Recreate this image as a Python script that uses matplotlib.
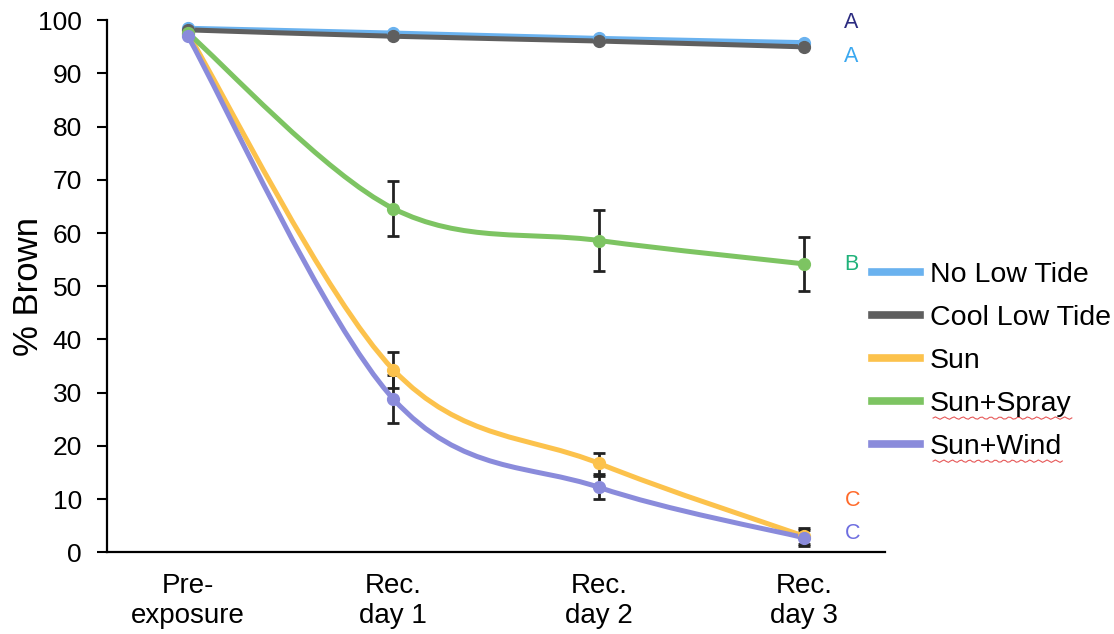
import numpy as np
import matplotlib.pyplot as plt
from matplotlib.path import Path
from matplotlib.patches import PathPatch
from matplotlib.lines import Line2D

plt.rcParams['font.family'] = ['Liberation Sans', 'DejaVu Sans']

# data
days = ['Pre-\nexposure', 'Rec.\nday 1', 'Rec.\nday 2', 'Rec.\nday 3']
names = ['No Low Tide', 'Cool Low Tide', 'Sun', 'Sun+Spray', 'Sun+Wind']
no_low_tide = [98.5, 97.6, 96.6, 95.8]
cool_low_tide = [98.2, 97.0, 96.1, 95.0]
sun = [97.5, 34.3, 16.7, 3.0]
sun_spray = [97.6, 64.6, 58.6, 54.2]
sun_wind = [97.0, 28.8, 12.2, 2.7]
err_no = [0, 0, 0, 0]
err_cool = [0, 0, 0, 0]
err_sun = [0, 3.4, 2.0, 1.5]
err_spray = [0, 5.2, 5.8, 5.0]
err_wind = [0, 4.6, 2.2, 1.5]
letters = ['A', 'A', 'B', 'C', 'C']
letter_y = [99.6, 93.2, 54.0, 9.8, 3.6]
letter_colors = ['#2b2b80', '#3aa8f0', '#1fb27a', '#ff6a2a', '#6e6ee0']

series = [no_low_tide, cool_low_tide, sun, sun_spray, sun_wind]
errs = [err_no, err_cool, err_sun, err_spray, err_wind]
colors = ['#6ab2ef', '#5f5f5f', '#fcc24c', '#7dc462', '#8a8bdb']


def smooth_path(x, y):
    # excel style smoothed line: bezier through the points (catmull-rom control points)
    pts = np.column_stack([x, y]).astype(float)
    verts = [pts[0]]
    codes = [Path.MOVETO]
    n = len(pts)
    for i in range(n - 1):
        p0 = pts[i - 1] if i > 0 else pts[i]
        p1 = pts[i]
        p2 = pts[i + 1]
        p3 = pts[i + 2] if i + 2 < n else pts[i + 1]
        c1 = p1 + (p2 - p0) / 6
        c2 = p2 - (p3 - p1) / 6
        verts += [c1, c2, p2]
        codes += [Path.CURVE4] * 3
    return Path(verts, codes)


fig = plt.figure(figsize=(11.14, 6.34), dpi=100)
ax = fig.add_axes([0.096, 0.129, 0.698, 0.839])

x = np.arange(len(days))
for vals, err, col in zip(series, errs, colors):
    e = np.array(err)
    mask = e > 0
    ax.errorbar(x[mask], np.array(vals)[mask], yerr=e[mask], fmt='none',
                ecolor='#222222', elinewidth=2, capsize=4, capthick=2, zorder=2)
for vals, col in zip(series, colors):
    ax.add_patch(PathPatch(smooth_path(x, vals), facecolor='none', edgecolor=col,
                           lw=3.6, capstyle='round', zorder=3))
    ax.plot(x, vals, 'o', color=col, ms=8.5, zorder=4)

for t, yy, c in zip(letters, letter_y, letter_colors):
    ax.text(3.195, yy, t, color=c, fontsize=15.5, ha='left', va='center', clip_on=False)

ax.set_xlim(-0.394, 3.39)
ax.set_ylim(0, 100)
ax.set_yticks(range(0, 101, 10))
ax.set_xticks(x)
ax.set_xticklabels(days, fontsize=20, linespacing=1.22)
ax.tick_params(axis='x', length=0, pad=15)
ax.tick_params(axis='y', length=7, width=1.5, labelsize=19, pad=11, direction='out')
for s in ['top', 'right']:
    ax.spines[s].set_visible(False)
for s in ['left', 'bottom']:
    ax.spines[s].set_linewidth(1.6)
ax.set_ylabel('% Brown', fontsize=25)
ax.yaxis.set_label_coords(-0.08, 0.5)

handles = [Line2D([0], [0], color=c, lw=5.5) for c in colors]
leg = fig.legend(handles, names, loc='upper left', bbox_to_anchor=(0.7825, 0.587),
                 frameon=False, fontsize=20.5, handlelength=1.7, handletextpad=0.35,
                 labelspacing=0.6, borderpad=0, borderaxespad=0)

# red spell-check squiggle under the last two legend entries
fig.canvas.draw()
r = fig.canvas.get_renderer()
for txt in leg.get_texts()[3:]:
    bb = txt.get_window_extent(r)
    xs = np.linspace(bb.x0 + 3, bb.x1, 60)
    ys = bb.y0 - 1 + 1.2 * np.sin(np.arange(60) * 1.6)
    fig.add_artist(Line2D(xs / fig.bbox.width, ys / fig.bbox.height,
                          color='#e03030', lw=0.8, alpha=0.8))

plt.savefig('out.png', dpi=100)
